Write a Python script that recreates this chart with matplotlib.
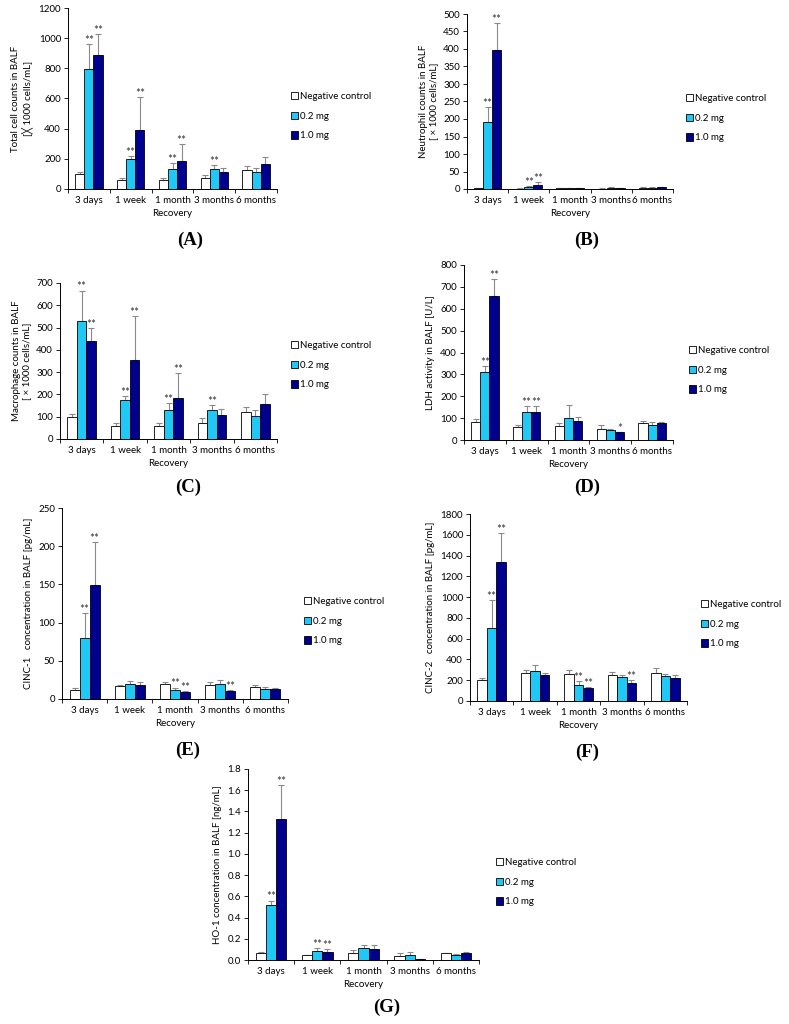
import matplotlib
matplotlib.use("Agg")
import matplotlib.pyplot as plt
from matplotlib.patches import Patch
from matplotlib.ticker import FixedLocator, NullFormatter
import numpy as np

plt.rcParams['font.family'] = ['Lato', 'DejaVu Sans']

categories = ["3 days", "1 week", "1 month", "3 months", "6 months"]
series_names = ["Negative control", "0.2 mg", "1.0 mg"]

# Panel A: Total cell counts
a_nc = [100, 60, 60, 75, 125]
a_nc_err = [15, 15, 15, 20, 30]
a_low = [795, 200, 130, 130, 115]
a_low_err = [165, 20, 40, 30, 25]
a_high = [890, 390, 185, 110, 165]
a_high_err = [135, 220, 115, 30, 50]
a_low_sig = ["**", "**", "**", "**", ""]
a_high_sig = ["**", "**", "**", "", ""]

# Panel B: Neutrophil counts
b_nc = [2, 1, 1.5, 1, 3]
b_nc_err = [1, 0.5, 0.5, 0.5, 2]
b_low = [192, 7, 2, 4, 4]
b_low_err = [41, 2, 0.5, 1, 1.5]
b_high = [396, 12, 2, 2, 5]
b_high_err = [78, 8, 0.5, 0.5, 2]
b_low_sig = ["**", "**", "", "", ""]
b_high_sig = ["**", "**", "", "", ""]

# Panel C: Macrophage counts
c_nc = [97, 60, 57, 72, 120]
c_nc_err = [15, 13, 15, 20, 23]
c_low = [530, 177, 130, 130, 105]
c_low_err = [135, 16, 30, 22, 23]
c_high = [440, 355, 183, 107, 158]
c_high_err = [57, 195, 112, 26, 45]
c_low_sig = ["**", "**", "**", "**", ""]
c_high_sig = ["**", "**", "**", "", ""]

# Panel D: LDH activity
d_nc = [83, 58, 65, 50, 77]
d_nc_err = [12, 12, 12, 17, 10]
d_low = [313, 128, 100, 45, 70]
d_low_err = [24, 27, 60, 5, 12]
d_high = [660, 127, 85, 35, 80]
d_high_err = [75, 28, 18, 2, 3]
d_low_sig = ["**", "**", "", "", ""]
d_high_sig = ["**", "**", "", "*", ""]

# Panel E: CINC-1
e_nc = [12, 17, 19, 18, 16]
e_nc_err = [2, 1, 3, 4, 2]
e_low = [80, 20, 12, 19, 13]
e_low_err = [33, 4, 3, 6, 3]
e_high = [149, 18, 9, 11, 13]
e_high_err = [56, 4, 1, 1, 1]
e_low_sig = ["**", "", "**", "", ""]
e_high_sig = ["**", "", "**", "**", ""]

# Panel F: CINC-2
f_nc = [205, 270, 260, 250, 265]
f_nc_err = [15, 25, 35, 25, 50]
f_low = [700, 285, 155, 230, 245]
f_low_err = [270, 60, 40, 20, 15]
f_high = [1340, 250, 125, 175, 225]
f_high_err = [275, 20, 10, 25, 30]
f_low_sig = ["**", "", "**", "", ""]
f_high_sig = ["**", "", "**", "**", ""]

# Panel G: HO-1
g_nc = [0.07, 0.045, 0.07, 0.04, 0.065]
g_nc_err = [0.005, 0.005, 0.025, 0.03, 0.005]
g_low = [0.52, 0.085, 0.11, 0.045, 0.05]
g_low_err = [0.04, 0.025, 0.035, 0.03, 0.01]
g_high = [1.33, 0.075, 0.105, 0.01, 0.07]
g_high_err = [0.32, 0.025, 0.04, 0.002, 0.01]
g_low_sig = ["**", "**", "", "", ""]
g_high_sig = ["**", "**", "", "", ""]

colors = ["white", "#1FC8F5", "#00008E"]
FS = 7.0
W, H = 789, 1024
fig = plt.figure(figsize=(W / 100, H / 100), dpi=100)


def px_axes(x0, y0, x1, y1):
    return fig.add_axes([x0 / W, 1 - y1 / H, (x1 - x0) / W, (y1 - y0) / H])


def panel(box, series, errs, sigs, ymax, ystep, ylabel, fmt, leg_xy, letter, letter_xy):
    ax = px_axes(*box)
    x = np.arange(len(categories))
    bw = 0.22
    offs = [-bw, 0, bw]
    for i in range(3):
        ax.bar(x + offs[i], series[i], bw, color=colors[i], edgecolor="black",
               linewidth=0.6, zorder=2)
        ax.errorbar(x + offs[i], series[i],
                    yerr=[np.zeros(len(x)), errs[i]], fmt="none",
                    ecolor="#8a8a8a", elinewidth=0.8, capsize=2.2, capthick=0.8, zorder=1)
    for i in (1, 2):
        for k, s in enumerate(sigs[i - 1]):
            if s:
                ax.text(x[k] + offs[i], series[i][k] + errs[i][k] - ymax * 0.01, s,
                        ha="center", va="bottom", fontsize=FS + 1.5, color="#333333")
    ax.set_xlim(-0.5, len(categories) - 0.5)
    ax.set_ylim(0, ymax)
    ticks = np.arange(0, ymax + ystep / 2, ystep)
    ax.set_yticks(ticks)
    ax.set_yticklabels([fmt.format(v) for v in ticks])
    ax.xaxis.set_major_locator(FixedLocator(np.arange(-0.5, len(categories), 1.0)))
    ax.xaxis.set_major_formatter(NullFormatter())
    ax.xaxis.set_minor_locator(FixedLocator(x))
    ax.set_xticklabels(categories, minor=True)
    ax.tick_params(axis="x", which="minor", length=0, labelsize=FS, pad=5)
    ax.tick_params(axis="x", which="major", length=3, direction="out", width=0.6)
    ax.tick_params(axis="y", length=3, direction="out", width=0.6, labelsize=FS, pad=2)
    for s in ("top", "right"):
        ax.spines[s].set_visible(False)
    for s in ("left", "bottom"):
        ax.spines[s].set_linewidth(0.7)
    ax.set_xlabel("Recovery", fontsize=FS, labelpad=3)
    ax.set_ylabel(ylabel, fontsize=FS, labelpad=4, linespacing=1.1)
    handles = [Patch(facecolor=c, edgecolor="black", linewidth=0.6) for c in colors]
    fig.legend(handles, series_names, loc="upper left",
               bbox_to_anchor=(leg_xy[0] / W, 1 - leg_xy[1] / H),
               frameon=False, fontsize=FS, handlelength=0.75, handleheight=0.75,
               handletextpad=0.2, labelspacing=1.1, borderpad=0, borderaxespad=0)
    fig.text(letter_xy[0] / W, 1 - letter_xy[1] / H, letter, ha="center", va="center",
             fontsize=13.5, fontweight="bold", family="Liberation Serif")
    return ax


panel((68, 8, 277, 189), [a_nc, a_low, a_high], [a_nc_err, a_low_err, a_high_err],
      [a_low_sig, a_high_sig], 1200, 200,
      "Total cell counts in BALF\n[\u2573 1000 cells/mL]", "{:.0f}",
      (291, 92), "(A)", (190, 240))
panel((467, 14, 673, 189), [b_nc, b_low, b_high], [b_nc_err, b_low_err, b_high_err],
      [b_low_sig, b_high_sig], 500, 50,
      "Neutrophil counts in BALF\n[ \u00d7 1000 cells/mL]", "{:.0f}",
      (686, 94), "(B)", (587, 240))
panel((60, 283, 277, 439), [c_nc, c_low, c_high], [c_nc_err, c_low_err, c_high_err],
      [c_low_sig, c_high_sig], 700, 100,
      "Macrophage counts in BALF\n[ \u00d7 1000 cells/mL]", "{:.0f}",
      (291, 341), "(C)", (188, 487))
panel((464, 265, 673, 440), [d_nc, d_low, d_high], [d_nc_err, d_low_err, d_high_err],
      [d_low_sig, d_high_sig], 800, 100,
      "LDH activity in BALF [U/L]", "{:.0f}",
      (689, 346), "(D)", (587, 487))
panel((62, 508, 288, 699), [e_nc, e_low, e_high], [e_nc_err, e_low_err, e_high_err],
      [e_low_sig, e_high_sig], 250, 50,
      "CINC-1   concentration in BALF [pg/mL]", "{:.0f}",
      (304, 597), "(E)", (188, 750))
panel((470, 514, 687, 701), [f_nc, f_low, f_high], [f_nc_err, f_low_err, f_high_err],
      [f_low_sig, f_high_sig], 1800, 200,
      "CINC-2   concentration in BALF [pg/mL]", "{:.0f}",
      (701, 600), "(F)", (587, 752))
panel((248, 769, 479, 960), [g_nc, g_low, g_high], [g_nc_err, g_low_err, g_high_err],
      [g_low_sig, g_high_sig], 1.8, 0.2,
      "HO-1 concentration in BALF [ng/mL]", "{:.1f}",
      (496, 858), "(G)", (387, 1007))

fig.savefig("out.png", dpi=100, facecolor="white")
